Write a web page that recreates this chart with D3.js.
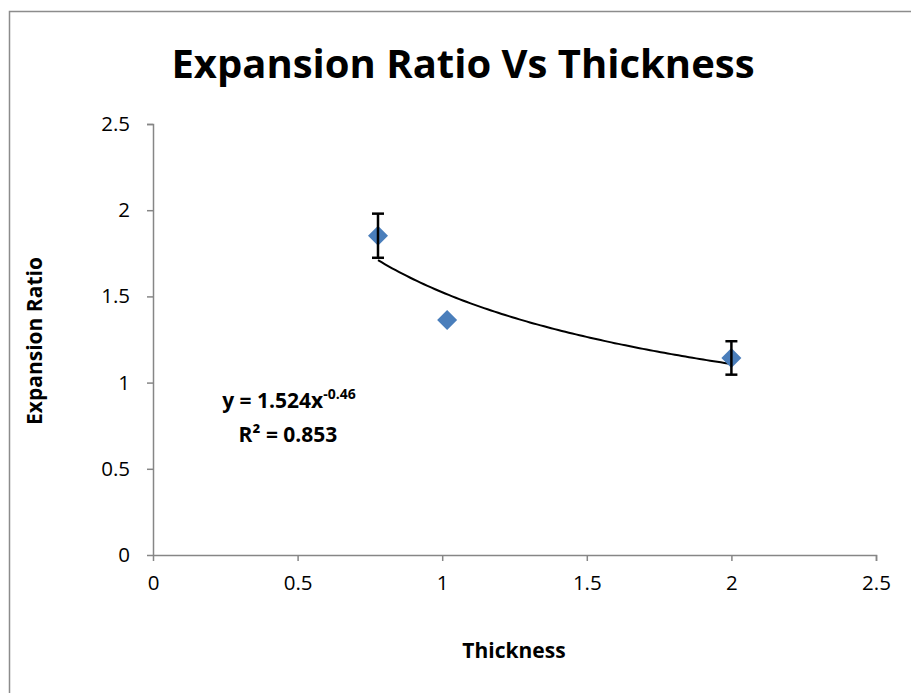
<!DOCTYPE html>
<html>
<head>
<meta charset="utf-8">
<script src="https://cdn.jsdelivr.net/npm/d3@7"></script>
<style>
body { margin: 0; background: #fff; }
text { font-family: "Open Sans", "Noto Sans", sans-serif; }
</style>
</head>
<body>
<script>
'use strict';

var thickness = [0.778, 1.017, 2.0];
var ratio = [1.852, 1.363, 1.143];
var errUp = [0.128, 0, 0.097];
var errDown = [0.128, 0, 0.097];
var ticks = [0, 0.5, 1, 1.5, 2, 2.5];
var fitA = 1.524, fitB = -0.46;

var W = 911, H = 693;
var svg = d3.select('body').append('svg').attr('width', W).attr('height', H);

svg.append('rect')
	.attr('x', 9.5).attr('y', 11.5)
	.attr('width', 920).attr('height', 720)
	.attr('fill', 'none').attr('stroke', '#8c8c8c').attr('stroke-width', 1.5);

var x = d3.scaleLinear().domain([0, 2.5]).range([153, 876]);
var y = d3.scaleLinear().domain([0, 2.5]).range([555, 124]);

var gx = svg.append('g').attr('transform', 'translate(0,555)')
	.call(d3.axisBottom(x).tickValues(ticks).tickSize(6).tickPadding(14).tickFormat(d3.format('')));
var gy = svg.append('g').attr('transform', 'translate(153,0)')
	.call(d3.axisLeft(y).tickValues(ticks).tickSize(6).tickPadding(17).tickFormat(d3.format('')));
[gx, gy].forEach(g => {
	g.selectAll('path, line').attr('stroke', '#868686').attr('stroke-width', 1.5);
	g.selectAll('text').attr('font-size', 20.5).attr('fill', '#000')
		.style('font-family', '"Open Sans", sans-serif');
});
gy.select('.domain').attr('d', 'M-6,124.5H0.5V555.5');
gx.select('.domain').attr('d', 'M153,0.5H876.5V6');

// trend line
var fx = d3.range(0, 101).map(i => thickness[0] + (thickness[2] - thickness[0]) * i / 100);
svg.append('path')
	.datum(fx)
	.attr('fill', 'none').attr('stroke', '#000').attr('stroke-width', 2)
	.attr('d', d3.line().x(d => x(d)).y(d => y(fitA * Math.pow(d, fitB))));

// markers
var pts = thickness.map((t, i) => ({t: t, r: ratio[i], up: errUp[i], dn: errDown[i]}));
svg.selectAll('.pt').data(pts).enter().append('path')
	.attr('class', 'pt')
	.attr('transform', d => 'translate(' + x(d.t) + ',' + y(d.r) + ') rotate(45)')
	.attr('d', d3.symbol().type(d3.symbolSquare).size(200))
	.attr('fill', '#4a7ebb');

// error bars
var eb = svg.selectAll('.eb').data(pts.filter(d => d.up > 0)).enter().append('g')
	.attr('stroke', '#000').attr('stroke-width', 2.5);
eb.append('line')
	.attr('x1', d => x(d.t)).attr('x2', d => x(d.t))
	.attr('y1', d => y(d.r + d.up)).attr('y2', d => y(d.r - d.dn));
eb.append('line')
	.attr('x1', d => x(d.t) - 6).attr('x2', d => x(d.t) + 6)
	.attr('y1', d => y(d.r + d.up)).attr('y2', d => y(d.r + d.up));
eb.append('line')
	.attr('x1', d => x(d.t) - 6).attr('x2', d => x(d.t) + 6)
	.attr('y1', d => y(d.r - d.dn)).attr('y2', d => y(d.r - d.dn));

// titles
svg.append('text').attr('x', 463).attr('y', 78).attr('text-anchor', 'middle')
	.attr('font-size', 40).attr('font-weight', 'bold').text('Expansion Ratio Vs Thickness');
svg.append('text').attr('x', 514).attr('y', 658).attr('text-anchor', 'middle')
	.attr('font-size', 21).attr('font-weight', 'bold').text('Thickness');
svg.append('text').attr('transform', 'translate(42,341) rotate(-90)').attr('text-anchor', 'middle')
	.attr('font-size', 21).attr('font-weight', 'bold').text('Expansion Ratio');

// equation
var eq = svg.append('text').attr('x', 289).attr('y', 408).attr('text-anchor', 'middle')
	.attr('font-size', 21).attr('font-weight', 'bold');
eq.append('tspan').text('y = 1.524x');
eq.append('tspan').attr('dy', -9).attr('font-size', 14).text('-0.46');
svg.append('text').attr('x', 288).attr('y', 442).attr('text-anchor', 'middle')
	.attr('font-size', 21).attr('font-weight', 'bold').text('R² = 0.853');
</script>
</body>
</html>
